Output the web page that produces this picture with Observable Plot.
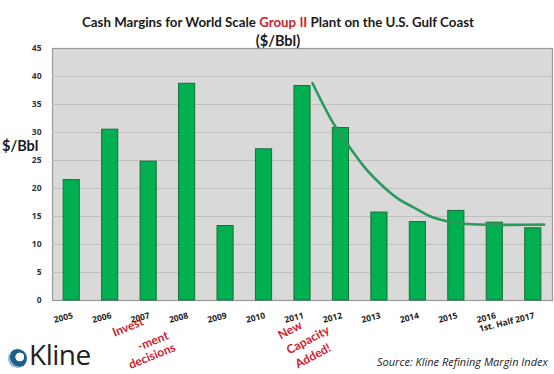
<!DOCTYPE html>
<html>
<head>
<meta charset="utf-8">
<script src="https://cdn.jsdelivr.net/npm/d3@7"></script>
<script src="https://cdn.jsdelivr.net/npm/@observablehq/plot@0.6"></script>
<style>
  html, body { margin: 0; padding: 0; background: #fff; }
  #wrap { position: relative; width: 554px; height: 374px; overflow: hidden; font-family: Lato, "Open Sans", sans-serif; }
  #wrap > svg { position: absolute; left: 0; top: 0; }
  .abs { position: absolute; white-space: nowrap; }
  #t1 { left: 0; width: 556px; text-align: center; top: 14px; font-weight: 700; font-size: 13.3px; color: #1a1a1a; }
  #t1 span { color: #d0202e; }
  #t2 { left: 0; width: 556px; text-align: center; top: 32px; font-weight: 700; font-size: 14.5px; color: #1a1a1a; }
  #ylab { left: 2px; top: 137px; font-weight: 700; font-size: 14.5px; color: #1a1a1a; }
  #src { left: 377px; top: 354px; font-style: italic; font-size: 11px; color: #222; font-family: "Open Sans", sans-serif; }
  #logo { left: 8px; top: 335px; font-size: 28px; color: #222; font-family: "Open Sans", sans-serif; letter-spacing: -0.5px; display: flex; align-items: center; }
  #logo i { display: inline-block; width: 19px; height: 19px; border-radius: 50%; background: radial-gradient(circle at 62% 42%, #fff 0 26%, #1f5f8b 29% 58%, #8bb8d8 61%); margin-right: 2px; margin-top: 8px; }
  .note { position: absolute; white-space: nowrap; color: #d0202e; font-weight: 700; font-size: 12px; font-family: Lato, sans-serif; line-height: 1; }
</style>
</head>
<body>
<div id="wrap">
  <div class="abs" id="t1">Cash Margins for World Scale <span>Group II</span> Plant on the U.S. Gulf Coast</div>
  <div class="abs" id="t2">($/Bbl)</div>
  <div class="abs" id="ylab">$/Bbl</div>
  <div class="abs" id="logo"><i></i>Kline</div>
  <div class="abs" id="src">Source: Kline Refining Margin Index</div>
</div>
<script>
const years = ["2005","2006","2007","2008","2009","2010","2011","2012","2013","2014","2015","2016","1st. Half 2017"];
const margins = [21.5, 30.5, 24.8, 38.7, 13.3, 27.0, 38.3, 30.8, 15.7, 14.0, 16.0, 13.9, 12.9];
const yTicks = [0,5,10,15,20,25,30,35,40,45];
// trend curve drawn on the chart (x in year-slot units, y in $/Bbl)
const trendX = [6.26, 6.84, 7.23, 7.66, 8.09, 8.52, 8.9, 9.30, 9.73, 10.16, 10.94, 12.28];
const trendY = [38.8, 31.2, 27.3, 23.4, 20.4, 18.0, 16.6, 15.1, 14.2, 13.7, 13.5, 13.55];
const note1 = ["Invest", "-ment", "decisions"];
const note2 = ["New", "Capacity", "Added!"];
const note1At = 2;  // 2007
const note2At = 6;  // 2011

const bars = years.map((y, i) => ({i, year: y, v: margins[i]}));
const trend = trendX.map((x, k) => ({x, y: trendY[k]}));

const chart = Plot.plot({
  width: 554,
  height: 374,
  marginTop: 48,
  marginLeft: 52,
  marginRight: 2,
  marginBottom: 74,
  style: {background: "transparent", fontFamily: "Open Sans, sans-serif", overflow: "visible"},
  x: {domain: [-0.5, 12.5], axis: null},
  y: {domain: [0, 45], ticks: yTicks, tickSize: 0, tickPadding: 11, label: null},
  marks: [
    Plot.frame({fill: "#d9d9d9", stroke: "#9a9a9a", strokeWidth: 1.2}),
    Plot.gridY(yTicks.filter(d => d > 0 && d < 45), {stroke: "#bfbfbf", strokeOpacity: 1, strokeWidth: 1}),
    Plot.axisY({ticks: yTicks, tickSize: 0, tickPadding: 11, fontSize: 8.5, fontWeight: 700, fill: "#333", label: null}),
    Plot.rectY(bars, {x1: d => d.i - 0.21, x2: d => d.i + 0.21, y1: 0, y2: "v", fill: "#00b050", stroke: "#1b6e3a", strokeWidth: 1}),
    Plot.line(trend, {x: "x", y: "y", curve: "monotone-x", stroke: "#2a9a58", strokeWidth: 2.6}),
    Plot.text(bars, {x: "i", y: () => 0, text: "year", dy: 15, dx: 1, rotate: -14, textAnchor: "end", fontSize: 8.5, fontWeight: 700, fill: "#222"})
  ]
});
const wrap = document.getElementById("wrap");
wrap.prepend(chart);

// rotated annotations placed through the chart's own scales
const sx = chart.scale("x"), sy = chart.scale("y");
function note(label, at, dx, dy, angle) {
  const el = document.createElement("div");
  el.className = "note";
  el.textContent = label;
  el.style.left = (sx.apply(at) + dx) + "px";
  el.style.top = (sy.apply(0) + dy) + "px";
  el.style.transform = `translate(-50%, -50%) rotate(${angle}deg)`;
  wrap.appendChild(el);
}
note(note1[0], note1At, -20, 27, -22);
note(note1[1], note1At, 5, 41, -22);
note(note1[2], note1At, 4, 56, -22);
note(note2[0], note2At, -12, 30, -28);
note(note2[1], note2At, 6, 40, -28);
note(note2[2], note2At, 11, 56, -28);
</script>
</body>
</html>
